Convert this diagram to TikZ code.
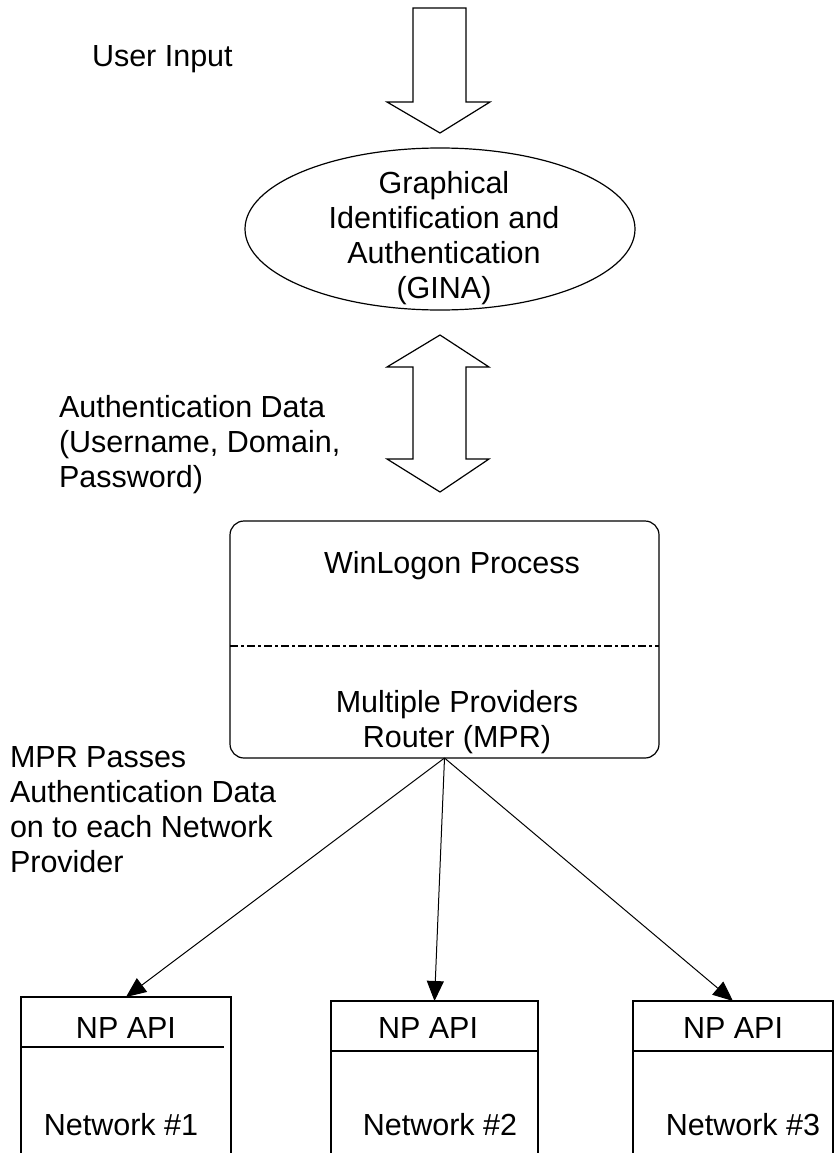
\documentclass[tikz,border=0pt]{standalone}
\usepackage{fontspec}
\setmainfont{Liberation Sans}
\usetikzlibrary{arrows.meta,shapes.geometric}
\begin{document}
\begin{tikzpicture}[x=1pt,y=-1pt,
  every node/.style={inner sep=0pt, outer sep=0pt},
  txt/.style={font=\fontsize{30.5}{35}\selectfont},
  lbl/.style={txt, align=left},
  ctr/.style={txt, align=center},
  ln/.style={line width=1.2pt, draw=black},
  blockarrow/.style={ln, fill=white, line join=miter},
  conn/.style={line width=1pt, -{Triangle[length=20pt,width=17pt]}},
  npbox/.style={draw, line width=1.2pt, anchor=north west, minimum height=200pt}
]
\useasboundingbox (0,0) rectangle (834,1153);
\clip (0,0) rectangle (834,1153);

% top input arrow
\node[lbl, anchor=base west] (userin) at (92,67) {User Input};
\draw[blockarrow] (413,8) -- (466,8) -- (466,102) -- (490,102) -- (440,133)
  -- (387,102) -- (413,102) -- cycle;

% GINA ellipse
\node[draw, ellipse, line width=1.2pt, minimum width=390pt, minimum height=162pt] (gina) at (440,229) {};
\node[ctr, anchor=base] (ginatxt) at (444,298) {Graphical\\Identification and\\Authentication\\(GINA)};

% double arrow
\node[lbl, anchor=base west] (authdata) at (59,487) {Authentication Data\\(Username, Domain,\\Password)};
\draw[blockarrow] (440,335) -- (489,367) -- (466,367) -- (466,459) -- (489,459)
  -- (440,492) -- (387,459) -- (413,459) -- (413,367) -- (387,367) -- cycle;

% WinLogon box
\node[draw, line width=1.2pt, rounded corners=14pt, minimum width=429pt, minimum height=237pt, anchor=north west] (wl) at (230,521) {};
\draw[line width=2pt, dash pattern=on 8pt off 3pt on 3pt off 3pt] ([yshift=-6pt]wl.west) -- ([yshift=-6pt]wl.east);
\node[ctr, anchor=base] (wltxt) at (452,573) {WinLogon Process};
\node[ctr, anchor=base] (mpr) at (457,747) {Multiple Providers\\Router (MPR)};

\node[lbl, anchor=base west] (mprpass) at (10,872) {MPR Passes\\Authentication Data\\on to each Network\\Provider};

% network providers
\node[npbox, minimum width=210pt] (np1) at (21,997) {};
\node[npbox, minimum width=207pt] (np2) at (331,1001) {};
\node[npbox, minimum width=200pt] (np3) at (633,1001) {};
\draw[ln] ([yshift=-50pt]np1.north west) -- ([xshift=-7pt,yshift=-50pt]np1.north east);
\draw[ln] ([yshift=-50pt]np2.north west) -- ([yshift=-50pt]np2.north east);
\draw[ln] ([yshift=-50pt]np3.north west) -- ([yshift=-50pt]np3.north east);
\node[ctr, anchor=base] (np1api) at (126,1038) {NP API};
\node[ctr, anchor=base] (np2api) at (428,1038) {NP API};
\node[ctr, anchor=base] (np3api) at (733,1038) {NP API};
\node[ctr, anchor=base] (np1net) at (121,1135) {Network \#1};
\node[ctr, anchor=base] (np2net) at (440,1135) {Network \#2};
\node[ctr, anchor=base] (np3net) at (743,1135) {Network \#3};

% connectors
\draw[conn] (wl.south) -- (np1.north);
\draw[conn] (wl.south) -- (np2.north);
\draw[conn] (wl.south) -- (np3.north);
\end{tikzpicture}
\end{document}
